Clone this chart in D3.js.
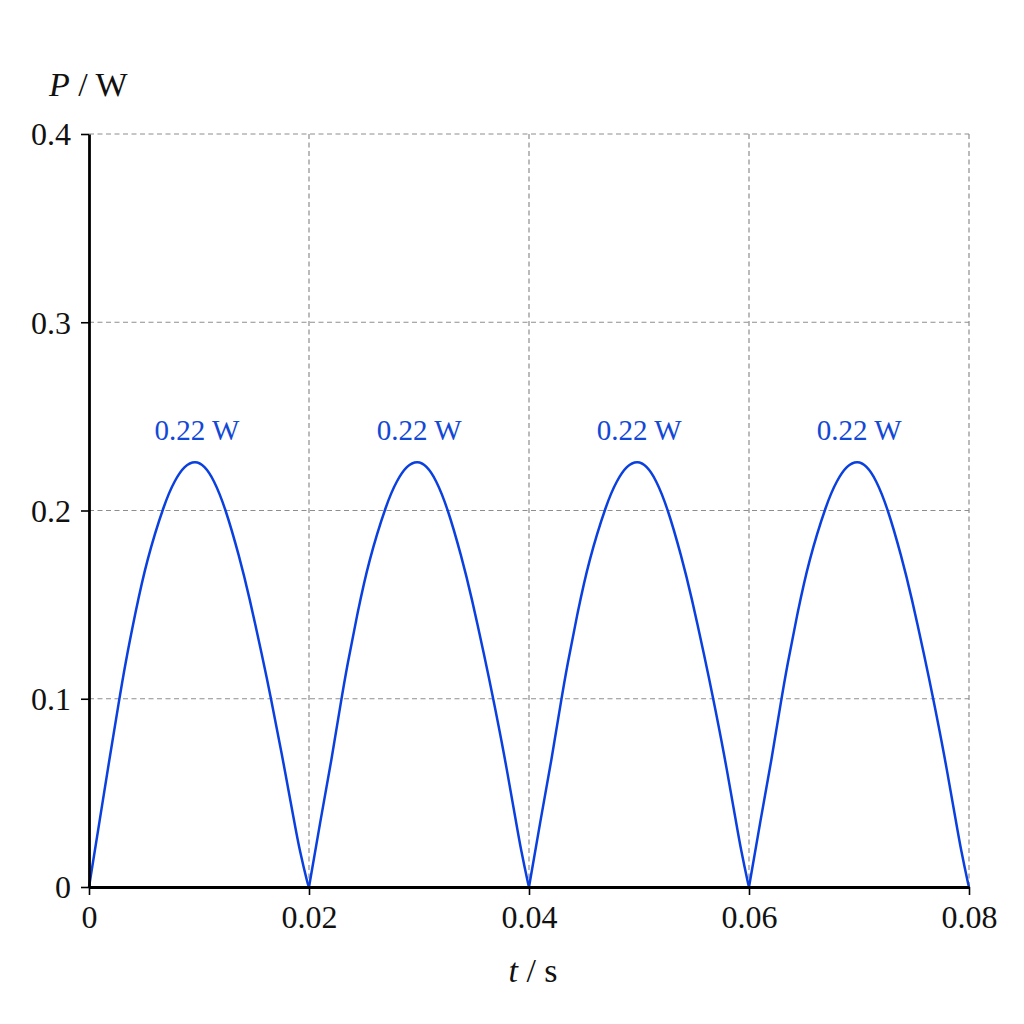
<!DOCTYPE html>
<html>
<head>
<meta charset="utf-8">
<script src="https://cdn.jsdelivr.net/npm/d3@7"></script>
<style>
  body { margin: 0; background: #fff; }
  svg { display: block; }
</style>
</head>
<body>
<div id="chart"></div>
<script>
// readings: the four half-cycles look identical,
// so they share one list of P values, each with its own times (s)
var powerW = [0, 0.035, 0.0675, 0.097, 0.119, 0.1455, 0.1738, 0.2012, 0.2154, 0.223, 0.2256,
  0.223, 0.2153, 0.2, 0.1764, 0.1524, 0.124, 0.1007, 0.0704, 0.0367, 0.0187, 0.0037, 0];
var times1 = [0, 0.00096, 0.00185, 0.00268, 0.00333, 0.00422, 0.00533, 0.00676, 0.00779, 0.0087, 0.00964,
  0.0105, 0.01137, 0.01241, 0.0136, 0.01462, 0.01569, 0.01652, 0.01753, 0.0186, 0.0192, 0.0198, 0.02];
var times2 = [0.02, 0.02104, 0.02203, 0.02287, 0.02353, 0.02442, 0.02553, 0.02696, 0.02799, 0.0289, 0.02984,
  0.0307, 0.03157, 0.03261, 0.0338, 0.03482, 0.03589, 0.03672, 0.03773, 0.03876, 0.03932, 0.03985, 0.04];
var times3 = [0.04, 0.04104, 0.04203, 0.04287, 0.04353, 0.04442, 0.04553, 0.04696, 0.04799, 0.0489, 0.04984,
  0.0507, 0.05157, 0.05261, 0.0538, 0.05482, 0.05589, 0.05672, 0.05773, 0.05876, 0.05932, 0.05985, 0.06];
var times4 = [0.06, 0.06104, 0.06203, 0.06287, 0.06353, 0.06442, 0.06553, 0.06696, 0.06799, 0.0689, 0.06984,
  0.0707, 0.07157, 0.07261, 0.0738, 0.07482, 0.07589, 0.07672, 0.07773, 0.07876, 0.07932, 0.07985, 0.08];

var peakTimes = [0.00964, 0.02984, 0.04984, 0.06984];
var peakValues = [0.2256, 0.2256, 0.2256, 0.2256];
var peakLabels = ["0.22 W", "0.22 W", "0.22 W", "0.22 W"];

var xTicks = [0, 0.02, 0.04, 0.06, 0.08];
var yTicks = [0, 0.1, 0.2, 0.3, 0.4];
var xTickLabels = ["0", "0.02", "0.04", "0.06", "0.08"];
var yTickLabels = ["0", "0.1", "0.2", "0.3", "0.4"];

var width = 1024, height = 1024;
var plotLeft = 89, plotRight = 969, plotTop = 134, plotBottom = 887;
var blue = "#0a3fe0";
var serif = "'Liberation Serif', 'Times New Roman', serif";

var svg = d3.select("#chart").append("svg")
  .attr("width", width)
  .attr("height", height);

var x = d3.scaleLinear().domain([0, 0.08]).range([plotLeft, plotRight]);
var y = d3.scaleLinear().domain([0, 0.4]).range([plotBottom, plotTop]);

// dashed grid
svg.append("g").selectAll("line")
  .data(xTicks.slice(1))
  .enter().append("line")
  .attr("x1", function(d){ return x(d); })
  .attr("x2", function(d){ return x(d); })
  .attr("y1", y(0))
  .attr("y2", y(0.4))
  .attr("stroke", "#8e8e8e")
  .attr("stroke-width", 1.2)
  .attr("stroke-dasharray", "5,3.5");

svg.append("g").selectAll("line")
  .data(yTicks.slice(1))
  .enter().append("line")
  .attr("x1", x(0))
  .attr("x2", x(0.08))
  .attr("y1", function(d){ return y(d); })
  .attr("y2", function(d){ return y(d); })
  .attr("stroke", "#8e8e8e")
  .attr("stroke-width", 1.2)
  .attr("stroke-dasharray", "5,3.5");

// the curve, one path per half-cycle so the zeros stay sharp
var line = d3.line()
  .x(function(d, i){ return x(d); })
  .y(function(d, i){ return y(powerW[i]); })
  .curve(d3.curveNatural);

svg.append("g").selectAll("path")
  .data([times1, times2, times3, times4])
  .enter().append("path")
  .attr("d", line)
  .attr("fill", "none")
  .attr("stroke", blue)
  .attr("stroke-width", 2.5);

// peak labels
svg.append("g").selectAll("text")
  .data(peakLabels)
  .enter().append("text")
  .attr("x", function(d, i){ return x(peakTimes[i]) + 2; })
  .attr("y", function(d, i){ return y(peakValues[i]) - 22; })
  .attr("text-anchor", "middle")
  .attr("font-family", serif)
  .attr("font-size", "29px")
  .attr("fill", "#1248d8")
  .text(function(d){ return d; });

// axes
var xAxis = d3.axisBottom(x)
  .tickValues(xTicks)
  .tickFormat(function(d, i){ return xTickLabels[i]; })
  .tickSize(8)
  .tickSizeOuter(0)
  .tickPadding(10);

var yAxis = d3.axisLeft(y)
  .tickValues(yTicks)
  .tickFormat(function(d, i){ return yTickLabels[i]; })
  .tickSize(8)
  .tickSizeOuter(0)
  .tickPadding(10);

var gx = svg.append("g")
  .attr("transform", "translate(0," + plotBottom + ")")
  .call(xAxis);
var gy = svg.append("g")
  .attr("transform", "translate(" + plotLeft + ",0)")
  .call(yAxis);

[gx, gy].forEach(function(g){
  g.select(".domain").attr("stroke", "#000").attr("stroke-width", 2.8);
  g.selectAll(".tick line").attr("stroke", "#000").attr("stroke-width", 1.6);
  g.selectAll(".tick text")
    .attr("font-family", serif)
    .attr("font-size", "32px")
    .attr("fill", "#111");
});
gy.selectAll(".tick text").attr("dy", "0.34em");

// axis titles
var yTitle = svg.append("text")
  .attr("x", 49)
  .attr("y", 96)
  .attr("font-family", serif)
  .attr("font-size", "34px")
  .attr("fill", "#111");
yTitle.append("tspan").attr("font-style", "italic").text("P");
yTitle.append("tspan").text(" / W");

var xTitle = svg.append("text")
  .attr("x", 533)
  .attr("y", 982)
  .attr("text-anchor", "middle")
  .attr("font-family", serif)
  .attr("font-size", "34px")
  .attr("fill", "#111");
xTitle.append("tspan").attr("font-style", "italic").text("t");
xTitle.append("tspan").text(" / s");
</script>
</body>
</html>
